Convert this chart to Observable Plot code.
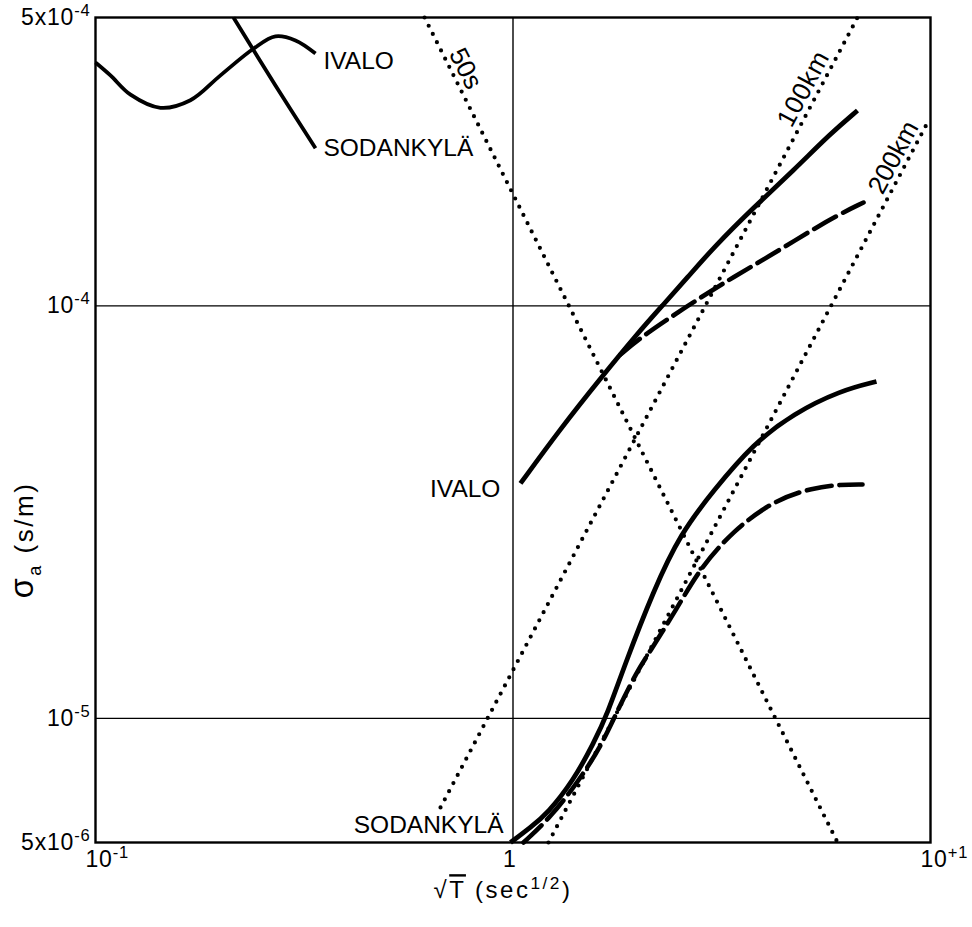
<!DOCTYPE html>
<html><head><meta charset="utf-8">
<script src="https://cdn.jsdelivr.net/npm/d3@7"></script>
<script src="https://cdn.jsdelivr.net/npm/@observablehq/plot@0.6"></script>
<style>html,body{margin:0;padding:0;background:#fff}svg{display:block}</style>
</head><body><div id="chart"></div>
<script>
// ---- ticks ----
const xTicks = [0.1, 1, 10];
const xTickLabels = ["10^{-1}", "1", "10^{+1}"];
const yTicks = [5e-4, 1e-4, 1e-5, 5e-6];
const yTickLabels = ["5x10^{-4}", "10^{-4}", "10^{-5}", "5x10^{-6}"];
const gridX = [1];
const gridY = [1e-4, 1e-5];

// ---- key curves (upper left) ----
const ivaloKeyX = [0.100, 0.1086, 0.1213, 0.1431, 0.1688, 0.1992, 0.2389, 0.2698, 0.3013, 0.3365];
const ivaloKeyY = [3.89e-4, 3.62e-4, 3.25e-4, 3.02e-4, 3.15e-4, 3.62e-4, 4.20e-4, 4.50e-4, 4.40e-4, 4.09e-4];
const sodankylaKeyX = [0.2140, 0.2698, 0.3365];
const sodankylaKeyY = [5.0e-4, 3.42e-4, 2.41e-4];

// ---- IVALO ----
const ivaloSolidX = [1.042, 1.300, 1.620, 1.987, 2.281, 2.617, 3.022, 3.769, 4.698, 5.762, 6.685];
const ivaloSolidY = [3.71e-5, 5.04e-5, 6.67e-5, 8.57e-5, 1.002e-4, 1.171e-4, 1.385e-4, 1.731e-4, 2.129e-4, 2.617e-4, 2.975e-4];
const ivaloDashedX = [1.809, 2.020, 2.560, 3.265, 4.069, 5.762, 6.912];
const ivaloDashedY = [7.62e-5, 8.38e-5, 9.85e-5, 1.152e-4, 1.310e-4, 1.628e-4, 1.780e-4];

// ---- SODANKYLÄ ----
const sodSolidX = [0.9863, 1.1013, 1.2094, 1.3962, 1.5591, 1.6843, 1.8497, 2.1705, 2.5192, 3.0216, 3.7688, 4.6975, 6.0872, 7.4233];
const sodSolidY = [5.00e-6, 5.44e-6, 5.88e-6, 7.07e-6, 8.69e-6, 1.027e-5, 1.343e-5, 2.041e-5, 2.806e-5, 3.567e-5, 4.637e-5, 5.482e-5, 6.232e-5, 6.553e-5];
const sodDashedX = [1.0596, 1.2298, 1.4274, 1.6201, 1.7796, 1.9871, 2.0998, 2.4779, 2.8124, 3.3751, 4.2068, 5.2453, 6.0872, 6.8736];
const sodDashedY = [5.00e-6, 5.75e-6, 6.99e-6, 8.50e-6, 1.045e-5, 1.306e-5, 1.420e-5, 1.856e-5, 2.320e-5, 2.853e-5, 3.374e-5, 3.626e-5, 3.687e-5, 3.687e-5];

// ---- dotted reference lines ----
const line50sX = [0.614, 5.99];
const line50sY = [5e-4, 5e-6];
const line100kmX = [0.6705, 6.685];
const line100kmY = [6.08e-6, 5e-4];
const line200kmX = [1.216, 9.89];
const line200kmY = [5e-6, 2.81e-4];

// ---- labels ----
const endLabels = ["IVALO", "SODANKYLÄ"];
const endLabelX = [0.933, 0.949];
const endLabelY = [3.59e-5, 5.50e-6];
const keyLabels = ["IVALO", "SODANKYLÄ"];
const keyLabelX = [0.3516, 0.3516];
const keyLabelY = [3.91e-4, 2.41e-4];
const lineLabels = ["50s", "100km", "200km"];
const lineLabelX = [0.7695, 4.963, 8.153];
const lineLabelY = [3.76e-4, 3.36e-4, 2.29e-4];
const lineLabelAngle = [63, -62, -62];

const rows = (xs, ys, extra = {}) => xs.map((x, i) => ({x, y: ys[i], ...Object.fromEntries(Object.entries(extra).map(([k, v]) => [k, v[i]]))}));

const solid = (xs, ys, w, curve) => Plot.line(rows(xs, ys), {x: "x", y: "y", stroke: "#000", strokeWidth: w, curve, strokeLinecap: "butt"});
const dashed = (xs, ys) => Plot.line(rows(xs, ys), {x: "x", y: "y", stroke: "#000", strokeWidth: 4.6, curve: "basis", strokeDasharray: "25,8"});
const dotted = (xs, ys) => Plot.line(rows(xs, ys), {x: "x", y: "y", stroke: "#000", strokeWidth: 4.2, strokeDasharray: "0,9.2", strokeLinecap: "round"});

const FONT = "'Liberation Sans', Arial, Helvetica, sans-serif";

const chart = Plot.plot({
  width: 972,
  height: 927,
  marginLeft: 95,
  marginRight: 42,
  marginTop: 17,
  marginBottom: 85,
  style: {fontFamily: FONT, background: "#fff", color: "#000"},
  x: {type: "log", domain: [0.1, 10]},
  y: {type: "log", domain: [5e-6, 5e-4]},
  marks: [
    Plot.ruleY(gridY, {stroke: "#000", strokeWidth: 1.4}),
    Plot.ruleX(gridX, {stroke: "#000", strokeWidth: 1.4}),
    dotted(line50sX, line50sY),
    dotted(line100kmX, line100kmY),
    dotted(line200kmX, line200kmY),
    solid(ivaloKeyX, ivaloKeyY, 3.8, "catmull-rom"),
    solid(sodankylaKeyX, sodankylaKeyY, 3.8, "catmull-rom"),
    solid(ivaloSolidX, ivaloSolidY, 4.8, "basis"),
    dashed(ivaloDashedX, ivaloDashedY),
    solid(sodSolidX, sodSolidY, 4.8, "basis"),
    dashed(sodDashedX, sodDashedY),
    Plot.frame({stroke: "#000", strokeWidth: 2.4}),
    Plot.axisX({ticks: xTicks, tickFormat: d => xTickLabels[xTicks.indexOf(d)], tickSize: 0, tickPadding: 8, fontSize: 23, textAnchor: "start", dx: -10, label: null}),
    Plot.axisY({ticks: yTicks, tickFormat: d => yTickLabels[yTicks.indexOf(d)], tickSize: 0, tickPadding: 5, fontSize: 23, label: null}),
    Plot.text(rows(endLabelX, endLabelY, {t: endLabels}), {x: "x", y: "y", text: "t", textAnchor: "end", lineAnchor: "middle", fontSize: 24.5, fill: "#000"}),
    Plot.text(rows(keyLabelX, keyLabelY, {t: keyLabels}), {x: "x", y: "y", text: "t", textAnchor: "start", lineAnchor: "middle", fontSize: 24.5, fill: "#000"}),
    Plot.text(rows(lineLabelX, lineLabelY, {t: lineLabels, a: lineLabelAngle}), {x: "x", y: "y", text: "t", rotate: "a", textAnchor: "middle", lineAnchor: "middle", fontSize: 26, fill: "#000"}),
    Plot.text(["√~{T} (sec^{1/2})"], {frameAnchor: "bottom", text: d => d, textAnchor: "middle", dx: -10, dy: 48, lineAnchor: "middle", fontSize: 24, fill: "#000"}),
    Plot.text(["+{σ}_{a} (s/m)"], {frameAnchor: "left", text: d => d, textAnchor: "middle", dx: -71, dy: 110, rotate: -90, lineAnchor: "middle", fontSize: 26, fill: "#000"})
  ]
});

document.getElementById("chart").appendChild(chart);

// rich text: ^{..} superscript, _{..} subscript, ~{..} overline, +{..} enlarged
(function rich(svg) {
  const NS = "http://www.w3.org/2000/svg";
  svg.querySelectorAll("text").forEach(t => {
    if (t.querySelector("tspan")) return;
    const s = t.textContent;
    if (!/[\^_~+]\{/.test(s)) return;
    const fs = parseFloat(getComputedStyle(t).fontSize) || 20;
    t.textContent = "";
    const re = /([\^_~+])\{([^}]*)\}|([^\^_~+]+|\+)/g;
    let m, cur = 0;
    while ((m = re.exec(s))) {
      const ts = document.createElementNS(NS, "tspan");
      let off = 0;
      if (m[3] !== undefined) {
        ts.textContent = m[3];
      } else {
        ts.textContent = m[2];
        if (m[1] === "^") { off = -0.38 * fs; ts.setAttribute("font-size", (0.72 * fs) + "px"); }
        else if (m[1] === "_") { off = 0.3 * fs; ts.setAttribute("font-size", (0.7 * fs) + "px"); }
        else if (m[1] === "~") { ts.setAttribute("style", "text-decoration: overline"); }
        else if (m[1] === "+") { ts.setAttribute("font-size", (1.25 * fs) + "px"); }
      }
      if (off - cur !== 0) ts.setAttribute("dy", (off - cur) + "px");
      cur = off;
      t.appendChild(ts);
    }
  });
  svg.querySelectorAll("text").forEach(t => {
    const s = t.textContent;
    if (s.includes("(s/m)") || s.includes("(sec")) t.setAttribute("letter-spacing", "2.5");
    else if (/^5?x?10|^1$/.test(s)) t.setAttribute("letter-spacing", "0.8");
  });
})(chart);
</script>
</body></html>
